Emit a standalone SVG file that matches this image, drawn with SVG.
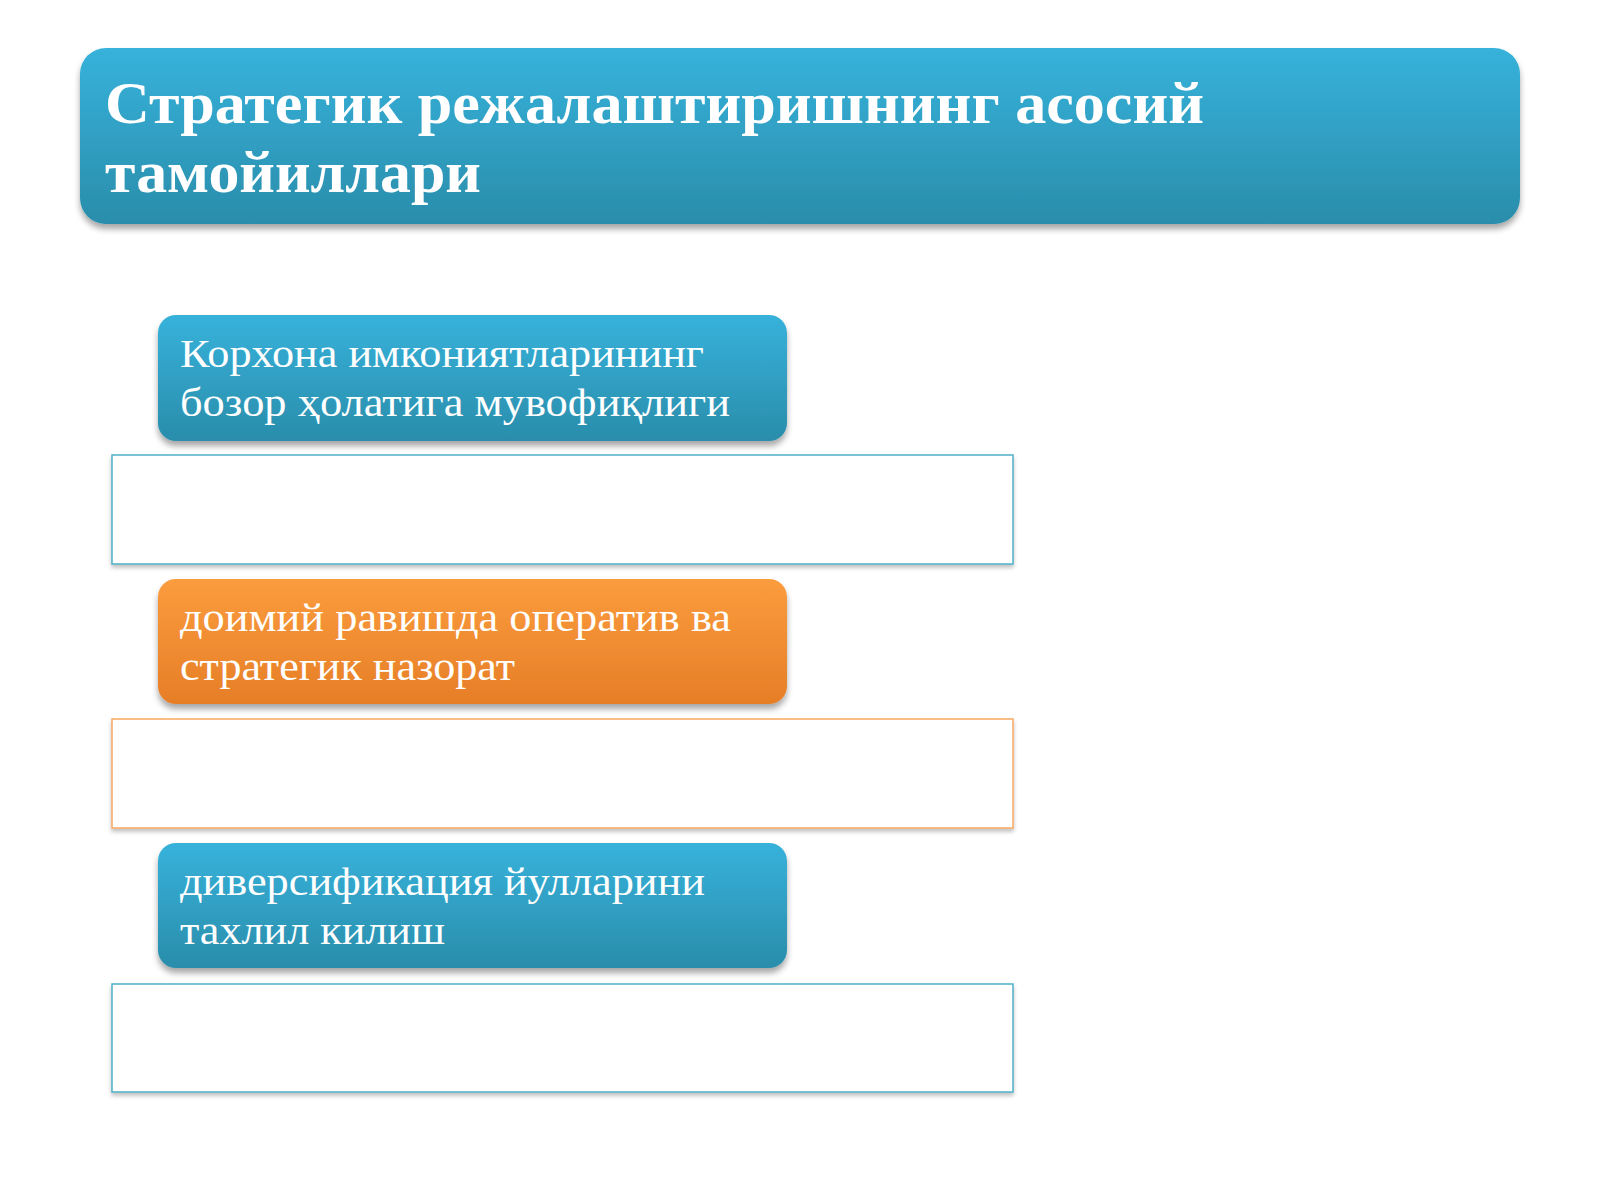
<svg xmlns="http://www.w3.org/2000/svg" width="1600" height="1200" viewBox="0 0 1600 1200">
<defs>
<linearGradient id="gBlue" x1="0" y1="0" x2="0" y2="1">
<stop offset="0" stop-color="#37b2db"/>
<stop offset="1" stop-color="#2a8dab"/>
</linearGradient>
<linearGradient id="gOrange" x1="0" y1="0" x2="0" y2="1">
<stop offset="0" stop-color="#fb9c3e"/>
<stop offset="1" stop-color="#e67e27"/>
</linearGradient>
<filter id="sh" x="-5%" y="-10%" width="110%" height="130%">
<feGaussianBlur in="SourceAlpha" stdDeviation="3"/>
<feOffset dx="0" dy="5" result="o"/>
<feComponentTransfer><feFuncA type="linear" slope="0.35"/></feComponentTransfer>
<feMerge><feMergeNode/><feMergeNode in="SourceGraphic"/></feMerge>
</filter>
<filter id="sh2" x="-5%" y="-10%" width="110%" height="130%">
<feGaussianBlur in="SourceAlpha" stdDeviation="2"/>
<feOffset dx="0" dy="3" result="o"/>
<feComponentTransfer><feFuncA type="linear" slope="0.25"/></feComponentTransfer>
<feMerge><feMergeNode/><feMergeNode in="SourceGraphic"/></feMerge>
</filter>
</defs>
<style>
.title{font-family:"Liberation Serif","Times New Roman",serif;font-weight:bold;font-size:60px;fill:#ffffff}
.lbl{font-family:"Liberation Serif","Times New Roman",serif;font-size:41px;fill:#ffffff}
.wb{fill:#ffffff;stroke:#4eb0c8;stroke-width:1.5}
.wo{fill:#ffffff;stroke:#f7a862;stroke-width:1.5}
</style>
<rect width="1600" height="1200" fill="#ffffff"/>
<g id="title">
<rect x="80" y="48" width="1440" height="176" rx="26" fill="url(#gBlue)" filter="url(#sh)"/>
<text class="title" x="105" y="123" textLength="1099" lengthAdjust="spacingAndGlyphs">Стратегик режалаштиришнинг асосий</text>
<text class="title" x="105" y="192" textLength="376" lengthAdjust="spacingAndGlyphs">тамойиллари</text>
</g>
<g id="node1">
<rect x="158" y="315" width="629" height="126" rx="18" fill="url(#gBlue)" filter="url(#sh)"/>
<text class="lbl" x="180" y="367" textLength="524" lengthAdjust="spacingAndGlyphs">Корхона имкониятларининг</text>
<text class="lbl" x="180" y="416" textLength="550" lengthAdjust="spacingAndGlyphs">бозор ҳолатига мувофиқлиги</text>
</g>
<g id="box1">
<rect class="wb" x="112" y="455" width="901" height="109" filter="url(#sh2)"/>
</g>
<g id="node2">
<rect x="158" y="579" width="629" height="125" rx="18" fill="url(#gOrange)" filter="url(#sh)"/>
<text class="lbl" x="180" y="631" textLength="551" lengthAdjust="spacingAndGlyphs">доимий равишда оператив ва</text>
<text class="lbl" x="180" y="680" textLength="335" lengthAdjust="spacingAndGlyphs">стратегик назорат</text>
</g>
<g id="box2">
<rect class="wo" x="112" y="719" width="901" height="109" filter="url(#sh2)"/>
</g>
<g id="node3">
<rect x="158" y="843" width="629" height="125" rx="18" fill="url(#gBlue)" filter="url(#sh)"/>
<text class="lbl" x="180" y="895" textLength="525" lengthAdjust="spacingAndGlyphs">диверсификация йулларини</text>
<text class="lbl" x="180" y="944" textLength="265" lengthAdjust="spacingAndGlyphs">тахлил килиш</text>
</g>
<g id="box3">
<rect class="wb" x="112" y="984" width="901" height="108" filter="url(#sh2)"/>
</g>
<g id="connectors"/>
</svg>
